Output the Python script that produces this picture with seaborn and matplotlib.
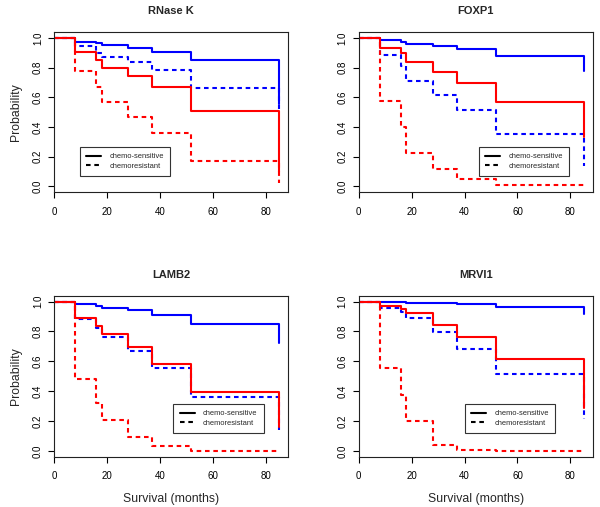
import pandas as pd
import matplotlib
matplotlib.use("Agg")
import matplotlib.pyplot as plt
import seaborn as sns
from matplotlib.lines import Line2D

# follow-up times where the curves step (months)
times = [0, 8, 16, 18, 28, 37, 52, 85]

genes = ["RNase K", "FOXP1", "LAMB2", "MRVI1"]

# survival probabilities, one value per time above
rnasek_blue_sens = [1, 0.975, 0.964, 0.951, 0.933, 0.908, 0.852, 0.554]
rnasek_blue_res = [1, 0.942, 0.900, 0.872, 0.834, 0.782, 0.661, 0.520]
rnasek_red_sens = [1, 0.906, 0.850, 0.800, 0.740, 0.666, 0.509, 0.094]
rnasek_red_res = [1, 0.778, 0.666, 0.565, 0.464, 0.357, 0.173, 0.020]

foxp1_blue_sens = [1, 0.987, 0.975, 0.960, 0.942, 0.922, 0.879, 0.778]
foxp1_blue_res = [1, 0.886, 0.810, 0.711, 0.614, 0.511, 0.352, 0.139]
foxp1_red_sens = [1, 0.935, 0.895, 0.834, 0.767, 0.695, 0.565, 0.330]
foxp1_red_res = [1, 0.576, 0.400, 0.222, 0.114, 0.049, 0.011, 0.010]

lamb2_blue_sens = [1, 0.982, 0.971, 0.960, 0.942, 0.913, 0.852, 0.724]
lamb2_blue_res = [1, 0.883, 0.820, 0.760, 0.666, 0.554, 0.359, 0.137]
lamb2_red_sens = [1, 0.892, 0.839, 0.783, 0.693, 0.585, 0.395, 0.160]
lamb2_red_res = [1, 0.484, 0.320, 0.209, 0.096, 0.034, 0.002, 0.000]

mrvi1_blue_sens = [1, 0.998, 0.996, 0.993, 0.989, 0.982, 0.966, 0.917]
mrvi1_blue_res = [1, 0.960, 0.933, 0.892, 0.798, 0.684, 0.513, 0.210]
mrvi1_red_sens = [1, 0.969, 0.951, 0.922, 0.845, 0.760, 0.614, 0.290]
mrvi1_red_res = [1, 0.552, 0.377, 0.200, 0.036, 0.005, 0.002, 0.000]

curves = {
    "RNase K": [rnasek_blue_sens, rnasek_blue_res, rnasek_red_sens, rnasek_red_res],
    "FOXP1": [foxp1_blue_sens, foxp1_blue_res, foxp1_red_sens, foxp1_red_res],
    "LAMB2": [lamb2_blue_sens, lamb2_blue_res, lamb2_red_sens, lamb2_red_res],
    "MRVI1": [mrvi1_blue_sens, mrvi1_blue_res, mrvi1_red_sens, mrvi1_red_res],
}
curve_keys = [("blue", "chemo-sensitive"), ("blue", "chemoresistant"),
              ("red", "chemo-sensitive"), ("red", "chemoresistant")]

legend_labels = ["chemo-sensitive", "chemoresistant"]

rows = []
for g in genes:
    for (col, resp), vals in zip(curve_keys, curves[g]):
        for t, v in zip(times, vals):
            rows.append({"gene": g, "group": col, "response": resp,
                         "Survival (months)": t, "Probability": v})
df = pd.DataFrame(rows)

sns.set_style("ticks")
plt.rcParams["font.family"] = ["Liberation Sans", "DejaVu Sans"]

fig = plt.figure(figsize=(6.0, 5.07), dpi=100)

# axes boxes in figure fraction
boxes = {
    "RNase K": [0.090, 0.621, 0.390, 0.316],
    "FOXP1": [0.598, 0.621, 0.390, 0.316],
    "LAMB2": [0.090, 0.099, 0.390, 0.318],
    "MRVI1": [0.598, 0.099, 0.390, 0.318],
}
legend_pos = {
    "RNase K": (0.111, 0.100),
    "FOXP1": (0.512, 0.100),
    "LAMB2": (0.510, 0.147),
    "MRVI1": (0.453, 0.147),
}

for g in genes:
    ax = fig.add_axes(boxes[g])
    sub = df[df["gene"] == g]
    sns.lineplot(data=sub, x="Survival (months)", y="Probability",
                 hue="group", style="response",
                 palette={"blue": "#0000ff", "red": "#ff0000"},
                 dashes={"chemo-sensitive": "", "chemoresistant": (2.2, 1.8)},
                 estimator=None, sort=True, drawstyle="steps-post",
                 linewidth=1.5, legend=False, ax=ax)

    ax.set_xlim(0, 88.5)
    ax.set_ylim(-0.04, 1.04)
    ax.set_xticks([0, 20, 40, 60, 80])
    ax.set_yticks([0.0, 0.2, 0.4, 0.6, 0.8, 1.0])
    ax.set_yticklabels(["0.0", "0.2", "0.4", "0.6", "0.8", "1.0"],
                       rotation=90, va="center")
    ax.tick_params(axis="both", direction="out", length=4, width=0.8,
                   labelsize=7, color="black", labelcolor="black")
    ax.tick_params(axis="x", pad=6.5)
    ax.tick_params(axis="y", pad=4)
    for s in ax.spines.values():
        s.set_visible(True)
        s.set_color("#222222")
        s.set_linewidth(0.8)

    ax.set_title(g, fontsize=8, fontweight="bold", pad=13)
    if g in ("RNase K", "LAMB2"):
        ax.set_ylabel("Probability", fontsize=8.8, labelpad=8)
    else:
        ax.set_ylabel("")
    if g in ("LAMB2", "MRVI1"):
        ax.set_xlabel("Survival (months)", fontsize=8.8, labelpad=8)
    else:
        ax.set_xlabel("")

    handles = [Line2D([], [], color="black", lw=1.5),
               Line2D([], [], color="black", lw=1.5, dashes=(2.2, 1.8))]
    leg = ax.legend(handles, legend_labels, loc="lower left",
                    bbox_to_anchor=legend_pos[g], borderaxespad=0,
                    fontsize=5.4, handlelength=2.0, handletextpad=1.1,
                    borderpad=0.85, labelspacing=0.3, fancybox=False,
                    framealpha=1)
    leg.get_frame().set_edgecolor("#333333")
    leg.get_frame().set_linewidth(0.8)

plt.savefig("out.png", dpi=100)
